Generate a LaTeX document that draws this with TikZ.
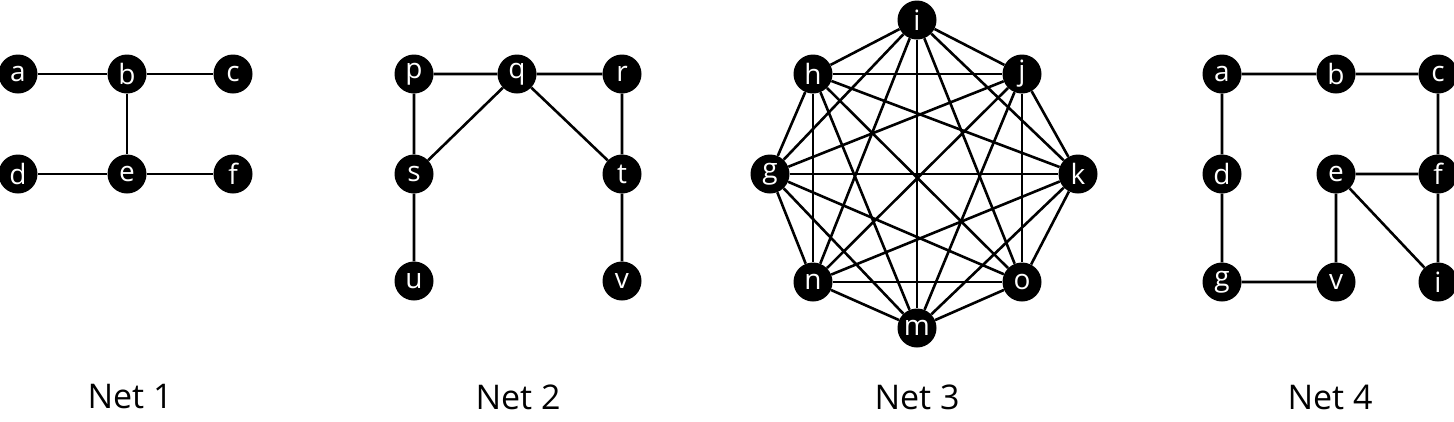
\documentclass[tikz,border=0pt]{standalone}
\usepackage{fontspec}
\setmainfont{Open Sans}
\begin{document}
\begin{tikzpicture}[x=1pt,y=-1pt,
  v/.style={circle,fill=black,minimum size=39pt,inner sep=0pt,text=white,font=\fontsize{28}{28}\selectfont},
  e/.style={line width=2.6pt},
  lab/.style={font=\fontsize{34}{34}\selectfont}]
\useasboundingbox (0,0) rectangle (1454,421);
\clip (0,0) rectangle (1454,421);
% Net 1
\node[v] (a1) at (18,74) {a};
\node[v] (b1) at (127,74) {b};
\node[v] (c1) at (233,74) {c};
\node[v] (d1) at (18,174) {d};
\node[v] (e1) at (127,174) {e};
\node[v] (f1) at (233,174) {f};
\begin{scope}[on background layer/.style={}]
\end{scope}
\draw[e] (a1)--(b1) (b1)--(c1) (b1)--(e1) (d1)--(e1) (e1)--(f1);
\node[lab] (l1) at (130,397) {Net 1};
% Net 2
\node[v] (p) at (414,74) {p};
\node[v] (q) at (517,74) {q};
\node[v] (r) at (622,74) {r};
\node[v] (s) at (414,174) {s};
\node[v] (t) at (622,174) {t};
\node[v] (u) at (414,281) {u};
\node[v] (vv) at (622,281) {v};
\draw[e] (p)--(q) (q)--(r) (p)--(s) (q)--(s) (q)--(t) (r)--(t) (s)--(u) (t)--(vv);
\node[lab] (l2) at (518,397) {Net 2};
% Net 3
\node[v] (i3) at (917,20) {i};
\node[v] (h3) at (813,74) {h};
\node[v] (j3) at (1022,74) {j};
\node[v] (g3) at (770,174) {g};
\node[v] (k3) at (1078,174) {k};
\node[v] (n3) at (813,282) {n};
\node[v] (o3) at (1022,282) {o};
\node[v] (m3) at (917,328) {m};
\foreach \x [count=\xi] in {i3,h3,j3,g3,k3,n3,o3,m3}{
  \foreach \y [count=\yi] in {i3,h3,j3,g3,k3,n3,o3,m3}{
    \ifnum\xi<\yi \draw[e] (\x)--(\y); \fi }}
\node[lab] (l3) at (917,397) {Net 3};
% Net 4
\node[v] (a4) at (1222,74) {a};
\node[v] (b4) at (1336,74) {b};
\node[v] (c4) at (1438,74) {c};
\node[v] (d4) at (1222,174) {d};
\node[v] (e4) at (1336,174) {e};
\node[v] (f4) at (1438,174) {f};
\node[v] (g4) at (1222,282) {g};
\node[v] (v4) at (1336,282) {v};
\node[v] (i4) at (1438,282) {i};
\draw[e] (a4)--(b4) (b4)--(c4) (a4)--(d4) (d4)--(g4) (g4)--(v4) (e4)--(v4) (e4)--(f4) (e4)--(i4) (c4)--(f4) (f4)--(i4);
\node[lab] (l4) at (1330,397) {Net 4};
\end{tikzpicture}
\end{document}
